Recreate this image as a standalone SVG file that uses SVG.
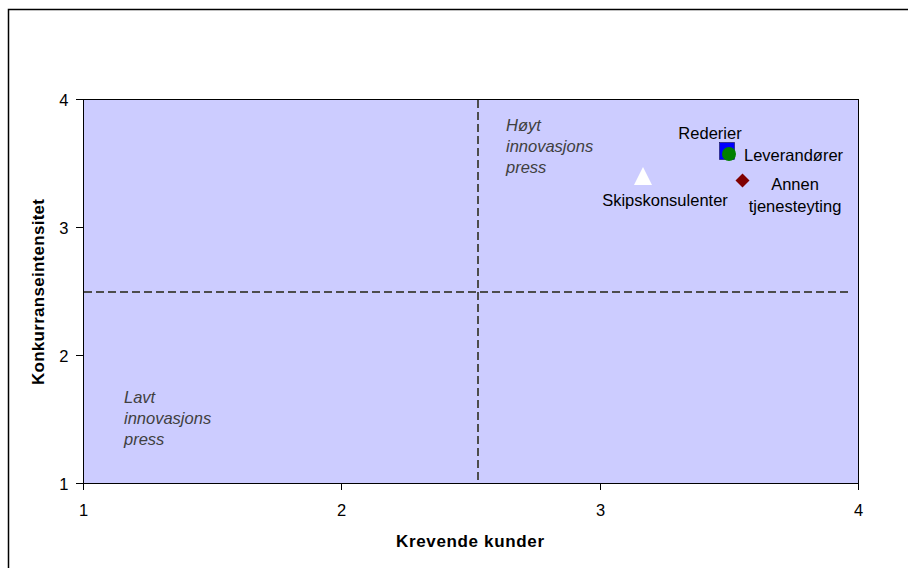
<svg xmlns="http://www.w3.org/2000/svg" width="908" height="568" viewBox="0 0 908 568">
<style>
.t{font-family:"Liberation Sans",Arial,sans-serif;font-size:16.5px;fill:#000}
.tick{font-family:"Liberation Sans",Arial,sans-serif;font-size:16.5px;fill:#000}
.it{font-family:"Liberation Sans",Arial,sans-serif;font-size:16.5px;font-style:italic;fill:#404040}
.ax{font-family:"Liberation Sans",Arial,sans-serif;font-size:17px;font-weight:bold;fill:#000}
.dash{stroke:#4d4d4d;stroke-width:2;stroke-dasharray:8 4;fill:none}
.tk{stroke:#000;stroke-width:1}
</style>
<rect x="0" y="0" width="908" height="568" fill="#fff"/>
<rect x="8.5" y="9.5" width="910" height="570" fill="none" stroke="#000" stroke-width="1.5"/>
<g id="plot">
<rect x="83.5" y="99.5" width="775" height="384" fill="#ccccff" stroke="#000" stroke-width="1"/>
</g>
<g id="axes">
<line class="tk" x1="76" y1="99.5" x2="83.5" y2="99.5"/>
<line class="tk" x1="76" y1="227.5" x2="83.5" y2="227.5"/>
<line class="tk" x1="76" y1="355.5" x2="83.5" y2="355.5"/>
<line class="tk" x1="76" y1="483.5" x2="83.5" y2="483.5"/>
<line class="tk" x1="83.5" y1="483.5" x2="83.5" y2="490"/>
<line class="tk" x1="341.5" y1="483.5" x2="341.5" y2="490"/>
<line class="tk" x1="600.5" y1="483.5" x2="600.5" y2="490"/>
<line class="tk" x1="858.5" y1="483.5" x2="858.5" y2="490"/>
<text class="tick" x="68.5" y="106" text-anchor="end">4</text>
<text class="tick" x="68.5" y="234" text-anchor="end">3</text>
<text class="tick" x="68.5" y="362" text-anchor="end">2</text>
<text class="tick" x="68.5" y="490" text-anchor="end">1</text>
<text class="tick" x="83.5" y="516" text-anchor="middle">1</text>
<text class="tick" x="341.5" y="516" text-anchor="middle">2</text>
<text class="tick" x="600.5" y="516" text-anchor="middle">3</text>
<text class="tick" x="858.5" y="516" text-anchor="middle">4</text>
<text class="ax" x="396" y="547" textLength="148" lengthAdjust="spacing">Krevende kunder</text>
<text class="ax" transform="translate(43.5,385) rotate(-90)" textLength="186" lengthAdjust="spacing">Konkurranseintensitet</text>
</g>
<g id="connectors">
<line class="dash" x1="478" y1="100" x2="478" y2="483"/>
<line class="dash" x1="84" y1="292" x2="850" y2="292"/>
</g>
<g id="quadrant-high">
<text class="it" x="506" y="131">Høyt</text>
<text class="it" x="506" y="152">innovasjons</text>
<text class="it" x="506" y="173">press</text>
</g>
<g id="quadrant-low">
<text class="it" x="124" y="403">Lavt</text>
<text class="it" x="124" y="424">innovasjons</text>
<text class="it" x="124" y="445">press</text>
</g>
<g id="rederier">
<rect x="719.5" y="142.5" width="15" height="17" fill="#0000ff" stroke="#000033" stroke-width="0.5"/>
<text class="t" x="710" y="139" text-anchor="middle">Rederier</text>
</g>
<g id="leverandorer">
<circle cx="729" cy="154" r="7" fill="#008000"/>
<text class="t" x="744" y="161">Leverandører</text>
</g>
<g id="annen">
<polygon points="742.5,173.5 749.5,180.5 742.5,187.5 735.5,180.5" fill="#800000"/>
<text class="t" x="795" y="190" text-anchor="middle">Annen</text>
<text class="t" x="795" y="212" text-anchor="middle">tjenesteyting</text>
</g>
<g id="skipskonsulenter">
<polygon points="643,167 652,185 634,185" fill="#ffffff"/>
<text class="t" x="665" y="206" text-anchor="middle">Skipskonsulenter</text>
</g>
</svg>
